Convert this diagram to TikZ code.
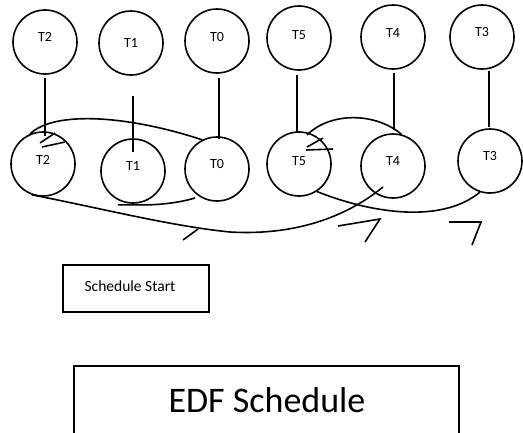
\documentclass[tikz,border=0pt]{standalone}
\usepackage{fontspec}
\setmainfont{Carlito}
\begin{document}
\begin{tikzpicture}[x=1pt,y=-1pt,
  task/.style={circle,draw,line width=1.6pt,minimum size=64pt,inner sep=0pt},
  tlabel/.style={font=\fontsize{14}{14}\selectfont,inner sep=0pt},
  link/.style={line width=1.6pt},
  tick/.style={line width=1.6pt},
  framebox/.style={draw,line width=1.4pt,inner sep=0pt}]
\useasboundingbox (0,0) rectangle (523,432);
\clip (0,0) rectangle (523,432);

% upper row of tasks
\node[task] (t2a) at (45,42) {};
\node[task] (t1a) at (131,43) {};
\node[task] (t0a) at (217,41) {};
\node[task] (t5a) at (299,38) {};
\node[task] (t4a) at (393,37) {};
\node[task] (t3a) at (482,37) {};
% lower row of tasks
\node[task] (t2b) at (43,164) {};
\node[task] (t1b) at (133,171) {};
\node[task] (t0b) at (217,169) {};
\node[task] (t5b) at (299,164) {};
\node[task] (t4b) at (393,166) {};
\node[task] (t3b) at (490,161) {};

% task names (canvas shifts: positive is upwards)
\node[tlabel] at ([yshift=5]t2a.center) {T2};
\node[tlabel] at (t1a.center) {T1};
\node[tlabel] at ([yshift=4]t0a.center) {T0};
\node[tlabel] at ([yshift=3]t5a.center) {T5};
\node[tlabel] at ([yshift=4]t4a.center) {T4};
\node[tlabel] at ([yshift=5]t3a.center) {T3};
\node[tlabel] at ([yshift=4]t2b.center) {T2};
\node[tlabel] at ([yshift=5]t1b.center) {T1};
\node[tlabel] at ([yshift=5]t0b.center) {T0};
\node[tlabel] at ([yshift=3]t5b.center) {T5};
\node[tlabel] at ([yshift=5]t4b.center) {T4};
\node[tlabel] at ([yshift=5]t3b.center) {T3};

% vertical links between the rows
\draw[link] ([xshift=0,yshift=-3]t2a.south) -- ([xshift=2,yshift=-5]t2b.north);
\draw[link] ([xshift=2,yshift=-20]t1a.south) -- ([yshift=-14]t1b.north);
\draw[link] ([xshift=2,yshift=-4]t0a.south) -- ([xshift=2,yshift=-3]t0b.north);
\draw[link] ([xshift=-2,yshift=-4]t5a.south) -- ([xshift=-2,yshift=-1]t5b.north);
\draw[link] ([xshift=1,yshift=-3]t4a.south) -- ([xshift=1,yshift=3]t4b.north);
\draw[link] ([xshift=7,yshift=-1]t3a.south) -- ([xshift=-1,yshift=1]t3b.north);

% sweep from T0 back over to T2
\draw[link] (t0b.117) .. controls (130,116) and (55,110) .. (t2b.113);
\draw[tick] (40,143) -- (55,133);
\draw[tick] (42,147) -- (65,142);

% line under T1 towards T0
\coordinate (t1end) at (195,198);
\draw[link] ([xshift=-15,yshift=-1]t1b.south) -- ([xshift=17,yshift=-1]t1b.south)
  .. controls (170,204) and (185,201) .. (t1end);

% long sweep from T2 to T4
\coordinate (t4in) at (383,187);
\draw[link] (t2b.-110) .. controls (100,208) and (170,226) .. (230,232)
  .. controls (300,236) and (350,214) .. (t4in);
\draw[tick] (183,240) -- (198,229);
\draw[tick] (338,226) -- (380,219) -- (365,242);

% sweep from T5 to T3
\draw[link] (t5b.-57) .. controls (368,212) and (440,225) .. (t3b.-108);
\draw[tick] (449,222) -- (482,222);
\draw[tick] (481,222) -- (472,245);

% arc from T4 back to T5
\draw[link] (t4b.75) .. controls (375,112) and (330,112) .. (307,135);
\draw[tick] (307,147) -- (323,138);
\draw[tick] (306,150) -- (333,149);

% captions
\node[framebox,minimum width=146pt,minimum height=47pt] (start) at (136,288.5) {};
\node[font=\fontsize{15.5}{15.5}\selectfont] at (130,286) {Schedule Start};
\node[framebox,minimum width=385pt,minimum height=80pt] (edf) at (266.5,406) {};
\node[font=\fontsize{36}{36}\selectfont] at (267,400) {EDF Schedule};
\end{tikzpicture}
\end{document}
